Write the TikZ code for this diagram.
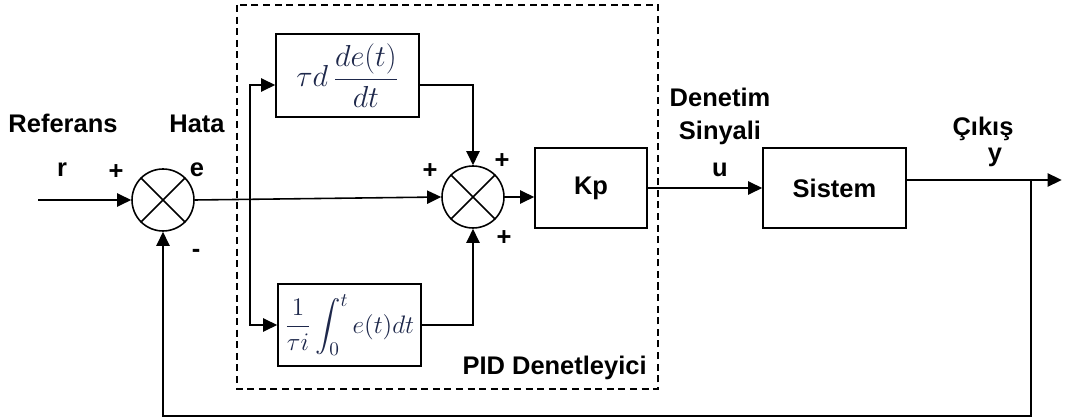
\documentclass[tikz,border=0pt]{standalone}
\usepackage{amsmath}
\usepackage[no-math]{fontspec}
\setmainfont{Liberation Sans}
\usetikzlibrary{arrows.meta, positioning, calc}
\definecolor{mathink}{RGB}{30,40,75}
\tikzstyle{arrow} = [line width=0.9pt,-{Triangle[length=8pt,width=7.5pt]}]
\tikzstyle{wire} = [line width=0.9pt]
\tikzstyle{block} = [rectangle, draw, line width=0.9pt, inner sep=0pt]
\tikzstyle{summer} = [circle, draw, line width=0.9pt, minimum size=1.24cm, inner sep=0pt]
\tikzstyle{lbl} = [font=\fontsize{14.5}{17}\selectfont\bfseries, inner sep=0pt]
\tikzstyle{mathlbl} = [text=mathink, font=\fontsize{15}{18}\selectfont]

\begin{document}
\begin{tikzpicture}[x=0.02cm, y=-0.02cm]
    \useasboundingbox (0,0) rectangle (1066,418);
    \node[summer] (sumA) at (163,200) {};
    \node[summer] (sumB) at (473,197) {};
    \draw[wire] (sumA.north west) -- (sumA.south east) (sumA.north east) -- (sumA.south west);
    \draw[wire] (sumB.north west) -- (sumB.south east) (sumB.north east) -- (sumB.south west);
    \node[block, mathlbl, font=\fontsize{17}{20}\selectfont, minimum width=2.86cm, minimum height=1.66cm] (dblk) at (347.5,75.5)
        {$\tau d\,\dfrac{de(t)}{dt}$};
    \node[block, mathlbl, minimum width=2.86cm, minimum height=1.64cm] (iblk) at (349.5,325)
        {$\dfrac{1}{\tau i}\displaystyle\int_0^t e(t)dt$};
    \node[block, lbl, minimum width=2.24cm, minimum height=1.6cm] (kp) at (591,188) {Kp};
    \node[block, lbl, minimum width=2.86cm, minimum height=1.6cm] (sys) at (834.5,188) {Sistem};
    \draw[line width=0.8pt, dash pattern=on 4pt off 2.6pt] (237,5) rectangle (658,389);

    \coordinate (in) at (38,200);
    \coordinate (br) at (250,200);
    \coordinate (dIn) at ($(dblk.west)+(0,9.5)$);
    \coordinate (dOut) at ($(dblk.east)+(0,9.5)$);
    \coordinate (sOut) at ($(sys.east)+(0,-8)$);
    \coordinate (out) at ($(sOut)+(155,0)$);
    \coordinate (fb) at ($(sOut)+(124,0)$);
    \coordinate (fbLow) at ($(fb)+(0,236)$);

    \draw[arrow] (in) -- (sumA.west);
    \draw[arrow] (sumA.east) -- (sumB.west);
    \draw[arrow] (br) |- (dIn);
    \draw[arrow] (br) |- (iblk.west);
    \draw[arrow] (dOut) -| (sumB.north);
    \draw[arrow] (iblk.east) -| (sumB.south);
    \draw[arrow] (sumB.east) -- (sumB.east -| kp.west);
    \draw[arrow] (kp.east) -- (sys.west);
    \draw[arrow] (sOut) -- (out);
    \draw[arrow] (fb) -- (fbLow) -| (sumA.south);

    \node[lbl, anchor=base] (refLbl) at (63,133) {Referans};
    \node[lbl, anchor=base] (hataLbl) at (197,133) {Hata};
    \node[lbl, anchor=base] (rLbl) at (62,177) {r};
    \node[lbl, anchor=base] (eLbl) at (197,177) {e};
    \node[lbl] (plusA) at (116,172) {+};
    \node[lbl] (minusA) at (196,253) {-};
    \node[lbl] (plusB) at (430,171) {+};
    \node[lbl] (plusC) at (502,161) {+};
    \node[lbl] (plusD) at (504,238) {+};
    \node[lbl, anchor=base] (ctlLbl) at (720,107) {Denetim};
    \node[lbl, anchor=base] (sigLbl) at (720,140) {Sinyali};
    \node[lbl, anchor=base] (uLbl) at (720,177) {u};
    \node[lbl, anchor=base] (outLbl) at (983,136) {Çıkış};
    \node[lbl, anchor=base] (yLbl) at (995,162) {y};
    \node[lbl, anchor=base east] (pidLbl) at (647,375) {PID Denetleyici};
\end{tikzpicture}
\end{document}
